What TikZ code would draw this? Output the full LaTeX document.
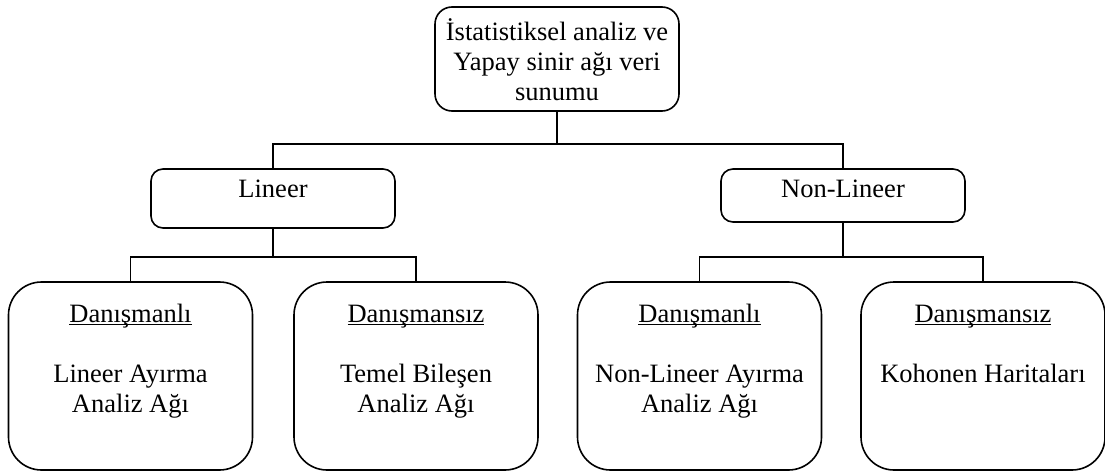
\documentclass[tikz,border=0pt]{standalone}
\usepackage{fontspec}
\setmainfont{Liberation Serif}
\newcommand{\ulx}[1]{\setbox0\hbox{#1}\rlap{\rule[-2.5pt]{\wd0}{1pt}}\box0}
\begin{document}
\begin{tikzpicture}[x=1pt,y=-1pt,
  box/.style={draw, line width=1.6pt, inner sep=0pt},
  bigbox/.style={box, rounded corners=33pt, minimum width=244pt, minimum height=188pt},
  txt/.style={font=\fontsize{26.5}{30}\selectfont, align=center, inner sep=0pt},
  conn/.style={line width=1.6pt}]
\useasboundingbox (0,0) rectangle (1105,471);
% boxes
\node[box, rounded corners=17pt, minimum width=244pt, minimum height=104pt] (top) at (557,59) {};
\node[txt] (toptxt) at (557,59.5) {İstatistiksel analiz ve\\Yapay sinir ağı veri\\sunumu};
\node[box, rounded corners=12pt, minimum width=244pt, minimum height=59pt] (lin) at (273,198.5) {};
\node[txt, anchor=base] (lintxt) at (273,197) {Lineer};
\node[box, rounded corners=12pt, minimum width=244pt, minimum height=53pt] (nlin) at (843,195.5) {};
\node[txt, anchor=base] (nlintxt) at (843,197) {Non-Lineer};
\node[bigbox] (b1) at (130.5,376) {};
\node[bigbox] (b2) at (416,376) {};
\node[bigbox] (b3) at (699.5,376) {};
\node[bigbox] (b4) at (983,376) {};
\node[txt, anchor=north] (t1) at (130.5,304) {\ulx{Danışmanlı}\\[0pt]\mbox{}\\Lineer Ayırma\\Analiz Ağı};
\node[txt, anchor=north] (t2) at (416,304.5) {\ulx{Danışmansız}\\[0pt]\mbox{}\\Temel Bileşen\\Analiz Ağı};
\node[txt, anchor=north] (t3) at (699.5,304) {\ulx{Danışmanlı}\\[0pt]\mbox{}\\Non-Lineer Ayırma\\Analiz Ağı};
\node[txt, anchor=north] (t4) at (983,304.5) {\ulx{Danışmansız}\\[0pt]\mbox{}\\Kohonen Haritaları};
% connectors
\coordinate (bus0) at (557,144);
\coordinate (bus1) at (273,257);
\coordinate (bus2) at (843,257);
\draw[conn] (top.south) -- (bus0);
\draw[conn] (bus0) -| (lin.north);
\draw[conn] (bus0) -| (nlin.north);
\draw[conn] (lin.south) -- (bus1);
\draw[conn] (bus1) -| (b1.north);
\draw[conn] (bus1) -| (b2.north);
\draw[conn] (nlin.south) -- (bus2);
\draw[conn] (bus2) -| (b3.north);
\draw[conn] (bus2) -| (b4.north);
\end{tikzpicture}
\end{document}
